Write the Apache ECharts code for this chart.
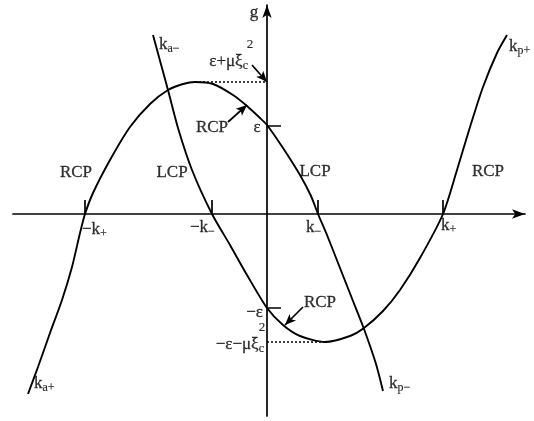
<!DOCTYPE html>
<html>
<head>
<meta charset="utf-8">
<script src="https://cdn.jsdelivr.net/npm/echarts@6/dist/echarts.min.js"></script>
<style>
  html, body { margin: 0; padding: 0; background: #fff; }
  #chart { width: 534px; height: 421px; }
</style>
</head>
<body>
<div id="chart"></div>
<script>
// values, origin where the k and g axes cross
const branchA = [
    [-239, -180], [-229, -153], [-217, -119], [-205, -86], [-195, -53], [-187, -19],
    [-182, 0], [-174, 21], [-157, 54], [-137, 87], [-117, 110], [-99, 124],
    [-84, 130], [-72, 132], [-54, 130], [-34, 119], [-20, 108], [-7, 96],
    [0, 89], [16, 66], [33, 39], [44, 18], [51, 0], [60, -21], [73, -54],
    [86, -87], [97, -115], [109, -150], [116, -177]
];
const branchB = [
    [-114, 179], [-99, 124], [-89, 86], [-75, 44], [-55, 0], [-37, -31],
    [-20, -61], [0, -94], [16, -111], [33, -122], [58, -128], [83, -122],
    [97, -114], [116, -97], [133, -76], [153, -44], [176, 0], [190, 44],
    [203, 87], [216, 127], [230, 161], [240, 179]
];
const kTicks = [-182, -55, 51, 176];
const gTicks = [88, -94];
const tickLen = 14;
const peakG = 132, peakK = -72;
const troughG = -128, troughK = 58;
const arrows = [
    [[-15, 149], [0, 132]],
    [[-39, 92], [-20, 109]],
    [[36, -93], [18, -111]]
];
const texts = [
    { t: "{b|g}", at: [-13, 201], align: "center" },
    { t: "{b|k}", at: [261, -11], align: "center" },
    { t: "{b|RCP}", at: [-191, 41], align: "center" },
    { t: "{b|LCP}", at: [-95, 41], align: "center" },
    { t: "{b|LCP}", at: [48, 42], align: "center" },
    { t: "{b|RCP}", at: [221, 42], align: "center" },
    { t: "{b|RCP}", at: [-55, 86], align: "center" },
    { t: "{b|RCP}", at: [53, -89], align: "center" },
    { t: "{b|ε}", at: [-10, 86], align: "center" },
    { t: "{b|−ε}", at: [-4, -99], align: "right" },
    { t: "{b|ε+μξ}{s|c}", at: [-19, 152], align: "right" },
    { t: "{u|2}", at: [-17, 169], align: "center" },
    { t: "{b|−ε−μξ}{s|c}", at: [-3, -131], align: "right" },
    { t: "{u|2}", at: [-5, -114], align: "center" },
    { t: "{b|−k}{s|+}", at: [-185, -16], align: "left" },
    { t: "{b|−k}{s|−}", at: [-77, -14], align: "left" },
    { t: "{b|k}{s|−}", at: [39, -14], align: "left" },
    { t: "{b|k}{s|+}", at: [174, -12], align: "left" },
    { t: "{b|k}{s|a−}", at: [-108, 169], align: "left" },
    { t: "{b|k}{s|p+}", at: [242, 167], align: "left" },
    { t: "{b|k}{s|a+}", at: [-233, -170], align: "left" },
    { t: "{b|k}{s|p−}", at: [122, -170], align: "left" }
];

const chart = echarts.init(document.getElementById("chart"));
const serif = "Liberation Serif";
const ink = "#000";

const rich = {
    b: { fontFamily: serif, fontSize: 17, color: ink, lineHeight: 20, textBorderColor: ink, textBorderWidth: 0.3 },
    s: { fontFamily: serif, fontSize: 12, color: ink, lineHeight: 9, verticalAlign: "bottom", textBorderColor: ink, textBorderWidth: 0.2 },
    u: { fontFamily: serif, fontSize: 13, color: ink, lineHeight: 14, textBorderColor: ink, textBorderWidth: 0.2 }
};

function curve(name, data) {
    return {
        name: name,
        type: "line",
        data: data,
        smooth: 0.25,
        showSymbol: false,
        symbol: "none",
        lineStyle: { color: ink, width: 1.9 },
        silent: true
    };
}

function segments(list) {
    const out = [];
    list.forEach(s => {
        out.push(s[0], s[1], ["-", "-"]);
    });
    return out;
}

const tickSegs = kTicks.map(k => [[k, 0], [k, tickLen]])
    .concat(gTicks.map(g => [[0, g], [tickLen, g]]));

const axisCommon = {
    type: "value",
    axisLine: {
        onZero: true,
        symbol: ["none", "arrow"],
        symbolSize: [7, 13],
        lineStyle: { color: ink, width: 1.7 }
    },
    axisTick: { show: false },
    axisLabel: { show: false },
    splitLine: { show: false }
};

const option = {
    animation: false,
    grid: { left: 13, right: 9, top: 5, bottom: 5 },
    xAxis: Object.assign({ min: -254, max: 258 }, axisCommon),
    yAxis: Object.assign({ min: -202, max: 209 }, axisCommon),
    series: [
        curve("branch A", branchA),
        curve("branch B", branchB),
        {
            name: "ticks",
            type: "line",
            data: segments(tickSegs),
            showSymbol: false,
            connectNulls: false,
            lineStyle: { color: ink, width: 1.7 },
            silent: true
        },
        {
            name: "levels",
            type: "line",
            data: segments([[[peakK, peakG], [0, peakG]], [[0, troughG], [troughK, troughG]]]),
            showSymbol: false,
            connectNulls: false,
            lineStyle: { color: ink, width: 1.5, type: [2, 2] },
            silent: true
        },
        {
            name: "arrows",
            type: "line",
            data: [],
            markLine: {
                silent: true,
                symbol: ["none", "arrow"],
                symbolSize: [7, 11],
                label: { show: false },
                lineStyle: { color: ink, width: 1.7, type: "solid" },
                data: arrows.map(a => [{ coord: a[0] }, { coord: a[1] }])
            }
        },
        {
            name: "text",
            type: "scatter",
            symbolSize: 0,
            silent: true,
            data: texts.map(d => ({
                value: d.at,
                label: {
                    show: true,
                    position: "inside",
                    align: d.align,
                    verticalAlign: "middle",
                    color: ink,
                    formatter: d.t,
                    rich: rich
                }
            }))
        }
    ]
};

chart.setOption(option);
window.addEventListener("resize", () => chart.resize());
</script>
</body>
</html>
